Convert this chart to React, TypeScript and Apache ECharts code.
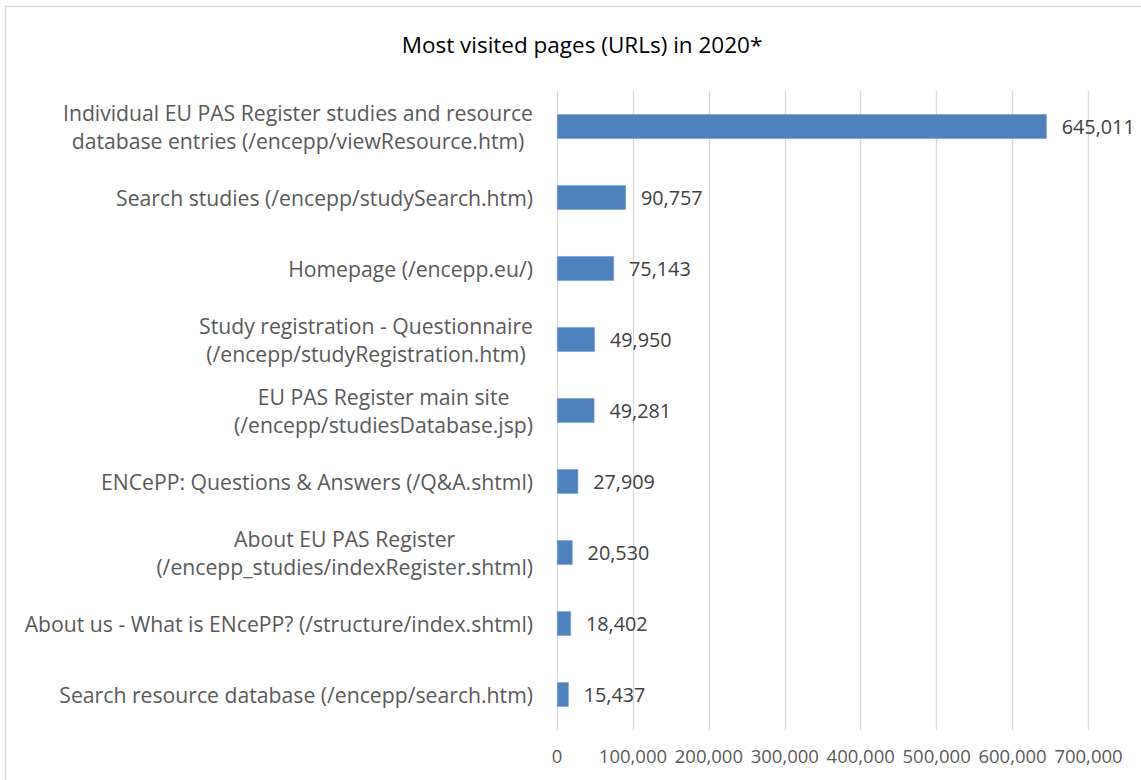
import React, { useEffect, useRef } from "react";
import * as echarts from "echarts";

const categories = [
  "Individual EU PAS Register studies and resource\ndatabase entries (/encepp/viewResource.htm)",
  "Search studies (/encepp/studySearch.htm)",
  "Homepage (/encepp.eu/)",
  "Study registration - Questionnaire\n(/encepp/studyRegistration.htm)",
  "EU PAS Register main site\n(/encepp/studiesDatabase.jsp)",
  "ENCePP: Questions & Answers (/Q&A.shtml)",
  "About EU PAS Register\n(/encepp_studies/indexRegister.shtml)",
  "About us - What is ENcePP? (/structure/index.shtml)",
  "Search resource database (/encepp/search.htm)",
];
const visits = [645011, 90757, 75143, 49950, 49281, 27909, 20530, 18402, 15437];
const titleText = "Most visited pages (URLs) in 2020*";

const FONT = "Open Sans";

export default function App() {
  const ref = useRef<HTMLDivElement>(null);
  useEffect(() => {
    const chart = echarts.init(ref.current!, undefined, { renderer: "svg" });
    const fmt = (n: number) => n.toLocaleString("en-US");
    chart.setOption({
      animation: false,
      backgroundColor: "#ffffff",
      title: {
        text: titleText,
        left: 577,
        top: 28,
        textAlign: "center",
        textStyle: { fontFamily: FONT, fontSize: 22.5, fontWeight: "normal", color: "#000000" },
      },
      graphic: [
        {
          type: "rect",
          shape: { x: 5.5, y: 6.5, width: 1300, height: 900 },
          style: { fill: "none", stroke: "#d9d9d9", lineWidth: 1.5 },
          silent: true,
        },
      ],
      grid: { left: 557, right: 52.5, top: 91, bottom: 50, containLabel: false },
      xAxis: {
        type: "value",
        min: 0,
        max: 700000,
        interval: 100000,
        axisLine: { show: false },
        axisTick: { show: false },
        splitLine: { show: true, lineStyle: { color: "#d9d9d9", width: 1.3 } },
        axisLabel: {
          margin: 16,
          fontFamily: FONT,
          fontSize: 18.5,
          color: "#595959",
          formatter: (v: number) => fmt(v),
        },
      },
      yAxis: {
        type: "category",
        data: categories,
        inverse: true,
        axisLine: { show: false },
        axisTick: { show: false },
        axisLabel: {
          margin: 24,
          align: "right",
          formatter: (v: string) => v.split("\n").map((l) => `{c|${l}}`).join("\n"),
          rich: {
            c: {
              align: "center",
              fontFamily: FONT,
              fontSize: 21.2,
              lineHeight: 28,
              color: "#595959",
            },
          },
        },
      },
      series: [
        {
          type: "bar",
          data: visits,
          barWidth: 24.5,
          itemStyle: { color: "#4f81bd", borderColor: "#6f9ad0", borderWidth: 0.6 },
          label: {
            show: true,
            position: "right",
            distance: 15,
            fontFamily: FONT,
            fontSize: 19.8,
            color: "#404040",
            formatter: (p: any) => fmt(p.value),
          },
        },
      ],
    });
    return () => chart.dispose();
  }, []);
  return (
    <div
      ref={ref}
      style={{ position: "fixed", left: 0, top: 0, width: 1141, height: 780, background: "#fff" }}
    />
  );
}
